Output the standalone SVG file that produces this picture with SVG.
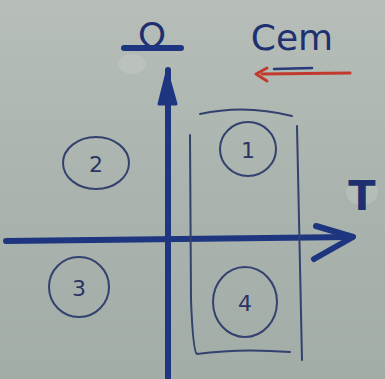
<svg xmlns="http://www.w3.org/2000/svg" width="385" height="379" viewBox="0 0 385 379">
<defs>
<linearGradient id="bg" x1="0" y1="0" x2="0" y2="1">
<stop offset="0" stop-color="#b7beb9"/>
<stop offset="0.5" stop-color="#aab3ad"/>
<stop offset="1" stop-color="#a3ada7"/>
</linearGradient>
<style>
.ax{stroke:#1e3580;stroke-width:6;fill:none;stroke-linecap:round;stroke-linejoin:round}
.thin{stroke:#33416e;stroke-width:2;fill:none;stroke-linecap:round}
.num{font-family:"DejaVu Sans",sans-serif;font-size:22px;fill:#2a3565;text-anchor:middle}
.lbl{font-family:"DejaVu Sans",sans-serif;fill:#1e3070;text-anchor:middle}
</style>
</defs>
<rect width="385" height="379" fill="url(#bg)"/>
<ellipse cx="132" cy="64" rx="14" ry="10" fill="#c4cac4" opacity="0.5"/>
<ellipse cx="362" cy="192" rx="16" ry="13" fill="#c3c9c3" opacity="0.45"/>

<g id="connectors">
<path class="ax" d="M6 241 Q180 239 352 237"/>
<path class="ax" d="M316 226 L353 237 L314 259"/>
<path class="ax" d="M168 378 L168 70"/>
<path d="M159 104 L167 72 L176 104 Z" fill="#1e3580" stroke="#1e3580" stroke-width="3" stroke-linejoin="round"/>
</g>

<g id="frame">
<path class="thin" d="M190 135 L191 300 Q193 352 197 354 Q240 348 290 352"/>
<path class="thin" d="M297 126 L302 360"/>
<path class="thin" d="M200 114 Q245 104 292 116"/>
</g>

<g id="node1">
<ellipse class="thin" cx="248" cy="149" rx="28" ry="27"/>
<text class="num" x="248" y="158">1</text>
</g>
<g id="node2">
<ellipse class="thin" cx="96" cy="163" rx="33" ry="26"/>
<text class="num" x="96" y="172">2</text>
</g>
<g id="node3">
<ellipse class="thin" cx="79" cy="287" rx="30" ry="30"/>
<text class="num" x="79" y="296">3</text>
</g>
<g id="node4">
<ellipse class="thin" cx="245" cy="302" rx="32" ry="35"/>
<text class="num" x="245" y="311">4</text>
</g>

<g id="labels">
<text class="lbl" x="152" y="48" font-size="36">Ω</text>
<path class="ax" d="M124 48 L181 48" stroke-width="3.5"/>
<text class="lbl" x="292" y="50" font-size="36" fill="#2a3565">Cem</text>
<path d="M262 74 L350 73" stroke="#c23a2e" stroke-width="3" fill="none" stroke-linecap="round"/>
<path d="M267 68 L256 74 L267 81" stroke="#c23a2e" stroke-width="3" fill="none" stroke-linecap="round" stroke-linejoin="round"/>
<path d="M274 69 L312 68" stroke="#2a3a7a" stroke-width="2.5" fill="none" stroke-linecap="round"/>
<text class="lbl" x="362" y="210" font-size="40" font-weight="bold" fill="#1a2a60">T</text>
</g>
</svg>
